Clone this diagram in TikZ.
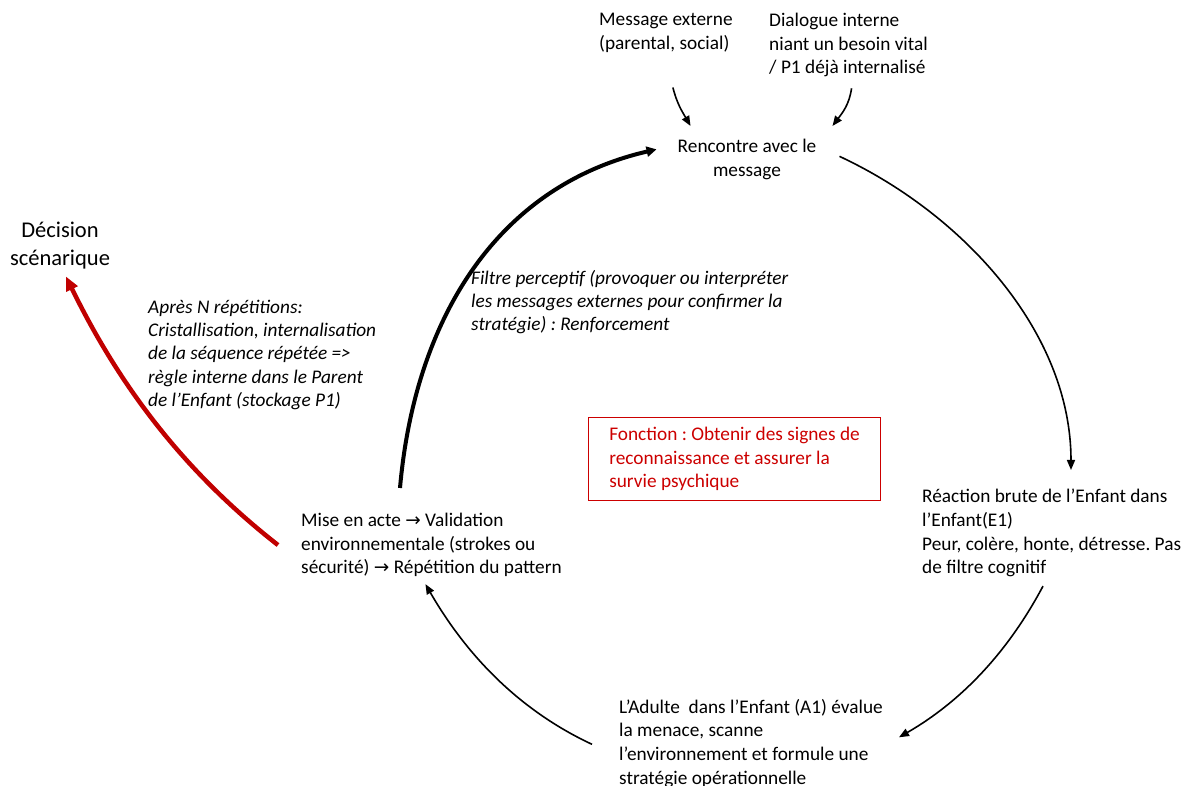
\documentclass[tikz,border=0pt]{standalone}
\usepackage{fontspec}
\setmainfont{Carlito}
\newfontfamily\flechefont{DejaVu Sans}
\usepackage{tikz}
\usetikzlibrary{arrows.meta}
\frenchspacing
\definecolor{scenred}{RGB}{192,0,0}
\definecolor{fnred}{RGB}{204,0,0}
\newcommand{\fleche}{{\flechefont\fontsize{18.5}{23.6}\selectfont →}}
\tikzstyle{txt}        = [inner sep=0pt, align=left, anchor=north west, font=\fontsize{19.3}{23.6}\selectfont]
\tikzstyle{txtc}       = [txt, align=center, anchor=north]
\tikzstyle{txtit}      = [txt, font=\fontsize{19.3}{23.2}\selectfont\itshape]
\tikzstyle{decisiontxt}= [txtc, font=\fontsize{22.5}{28}\selectfont]
\tikzstyle{fonctionbox}= [draw=fnred, line width=1.1pt, text=fnred, anchor=north west, align=left, minimum width=292pt, minimum height=83pt, font=\fontsize{19.3}{23.6}\selectfont]
\tikzstyle{arrow}      = [line width=1.6pt, -{Triangle[length=10pt,width=8pt]}]
\tikzstyle{thickarrow} = [line width=4pt, -{Triangle[length=10pt,width=10pt]}]
\tikzstyle{scenarrow}  = [line width=4.5pt, draw=scenred, -{Triangle[length=14pt,width=12pt]}]

\begin{document}
\begin{tikzpicture}[x=1pt,y=1pt]
	\useasboundingbox (0,0) rectangle (1189,785);

	\node[txt] (msgext) at (599,772) {Message externe\\(parental, social)};
	\node[txt] (dialint) at (769,772) {Dialogue interne\\niant un besoin vital\\/ P1 déjà internalisé};
	\node[txtc] (rencontre) at (747,646) {Rencontre avec le\\message};
	\node[txt] (reaction) at (922,296) {Réaction brute de l’Enfant dans\\l’Enfant(E1)\\Peur, colère, honte, détresse. Pas\\de filtre cognitif};
	\node[txt] (adulte) at (619,86) {L’Adulte\ \ dans l’Enfant (A1) évalue\\la menace, scanne\\l’environnement\ et formule une\\stratégie opérationnelle};
	\node[txt] (miseacte) at (301,272) {Mise en acte \fleche{} Validation\\environnementale (strokes ou\\sécurité) \fleche{} Répétition du pattern};
	\node[decisiontxt] (decision) at (60,563) {Décision\\scénarique};
	\node[txtit] (apres) at (148,485) {Après N répétitions:\\Cristallisation, internalisation\\de la séquence répétée =>\\règle interne dans le Parent\\de l’Enfant (stockage P1)};
	\node[txtit] (filtre) at (471,515) {Filtre perceptif (provoquer ou interpréter\\les messages externes pour confirmer la\\stratégie) : Renforcement};
	\node[fonctionbox] (fonction) at (588,368) {Fonction : Obtenir des signes de\\reconnaissance et assurer la\\survie psychique};

	\draw[arrow] ([xshift=7,yshift=-35]msgext.south) to[out=-76,in=120] ([xshift=13,yshift=13]rencontre.north west);
	\draw[arrow] ([xshift=3,yshift=-11]dialint.south) to[out=-98,in=53] ([xshift=16,yshift=13]rencontre.north east);
	\draw[thickarrow] ([xshift=99,yshift=25]miseacte.north west) to[out=85,in=193] ([xshift=-21,yshift=10]rencontre.west);
	\draw[arrow] ([xshift=23,yshift=3]rencontre.east) to[out=-25,in=90,looseness=0.9] ([xshift=149,yshift=19]reaction.north west);
	\draw[arrow] ([xshift=121,yshift=-9]reaction.south west) to[out=-118,in=30,looseness=0.9] ([xshift=16,yshift=6]adulte.east);
	\draw[arrow] ([xshift=-27,yshift=-1]adulte.west) to[out=155,in=-60,looseness=0.9] ([xshift=-6,yshift=-7]miseacte.south);
	\draw[scenarrow] ([xshift=-23]miseacte.west) to[out=142,in=-64,looseness=0.9] ([xshift=6,yshift=-7]decision.south);
\end{tikzpicture}
\end{document}
